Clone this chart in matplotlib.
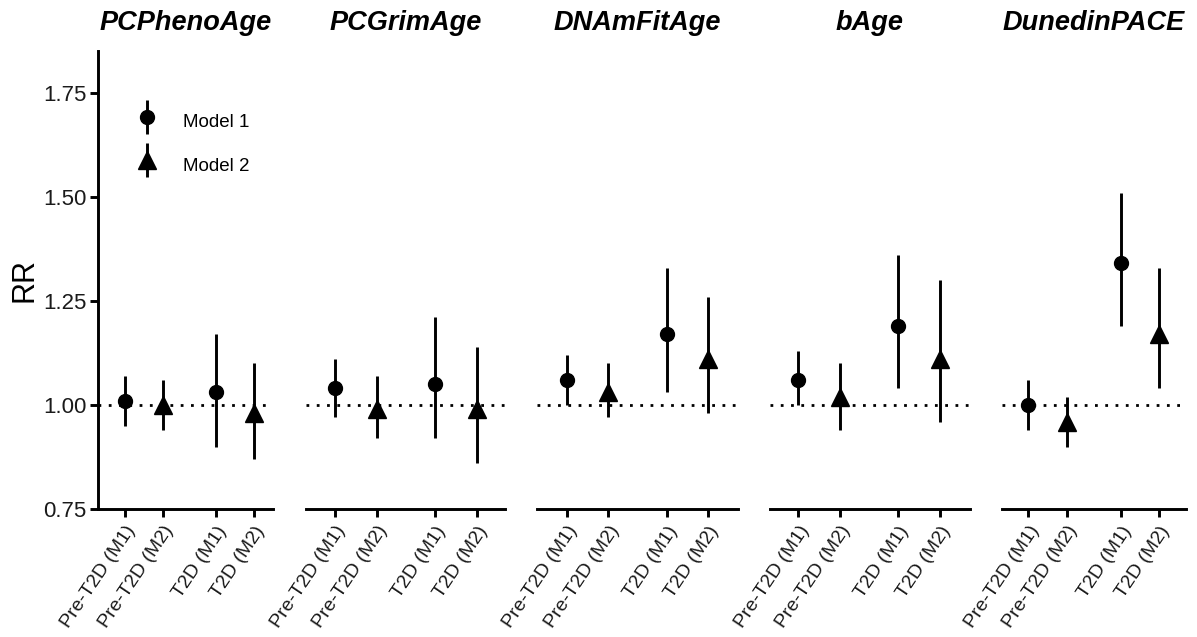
import matplotlib
matplotlib.use("Agg")
import matplotlib.pyplot as plt
import matplotlib.transforms as mtransforms
from matplotlib.container import ErrorbarContainer
from matplotlib.legend_handler import HandlerErrorbar

plt.rcParams['font.family'] = ['Liberation Sans', 'DejaVu Sans']

# ---------------- data ----------------
clocks = ["PCPhenoAge", "PCGrimAge", "DNAmFitAge", "bAge", "DunedinPACE"]
categories = ["Pre-T2D (M1)", "Pre-T2D (M2)", "T2D (M1)", "T2D (M2)"]
models = ["Model 1", "Model 2", "Model 1", "Model 2"]
x_positions = [1, 2, 3.4, 4.4]

rr = {
    "PCPhenoAge":  [1.01, 1.00, 1.03, 0.98],
    "PCGrimAge":   [1.04, 0.99, 1.05, 0.99],
    "DNAmFitAge":  [1.06, 1.03, 1.17, 1.11],
    "bAge":        [1.06, 1.02, 1.19, 1.11],
    "DunedinPACE": [1.00, 0.96, 1.34, 1.17],
}
lower = {
    "PCPhenoAge":  [0.95, 0.94, 0.90, 0.87],
    "PCGrimAge":   [0.97, 0.92, 0.92, 0.86],
    "DNAmFitAge":  [1.00, 0.97, 1.03, 0.98],
    "bAge":        [1.00, 0.94, 1.04, 0.96],
    "DunedinPACE": [0.94, 0.90, 1.19, 1.04],
}
upper = {
    "PCPhenoAge":  [1.07, 1.06, 1.17, 1.10],
    "PCGrimAge":   [1.11, 1.07, 1.21, 1.14],
    "DNAmFitAge":  [1.12, 1.10, 1.33, 1.26],
    "bAge":        [1.13, 1.10, 1.36, 1.30],
    "DunedinPACE": [1.06, 1.02, 1.51, 1.33],
}
y_ticks = [0.75, 1.00, 1.25, 1.50, 1.75]
y_ticklabels = ["0.75", "1.00", "1.25", "1.50", "1.75"]

# ---------------- layout ----------------
W, H = 1197, 637
fig = plt.figure(figsize=(W / 100, H / 100), dpi=100)
panel_px = [(97.7, 273), (306, 505), (537.3, 737.7), (770, 970), (1001.7, 1186)]
panel_xlim = [(0.28, 4.90), (0.31, 5.07), (0.29, 5.11), (0.32, 5.12), (0.31, 5.09)]
top_px, bot_px = 51, 509
marker_of = {"Model 1": "o", "Model 2": "^"}
msize_of = {"Model 1": 10, "Model 2": 13}
LW = 2.1
TXT = "#1a1a1a"

handles = {}
for i, clock in enumerate(clocks):
    l, r = panel_px[i]
    ax = fig.add_axes([l / W, (H - bot_px) / H, (r - l) / W, (bot_px - top_px) / H])
    ax.set_xlim(*panel_xlim[i])
    ax.set_ylim(0.75, 1.85)
    ax.axhline(1.0, color="black", lw=2.0, linestyle=(0, (1.0, 2.7)), zorder=1)
    for j in range(4):
        m = models[j]
        c = ax.errorbar([x_positions[j]], [rr[clock][j]],
                        yerr=[[rr[clock][j] - lower[clock][j]], [upper[clock][j] - rr[clock][j]]],
                        fmt=marker_of[m], color="black", ms=msize_of[m], elinewidth=LW,
                        capsize=0, zorder=3, label=m)
        if i == 0 and m not in handles:
            handles[m] = c
    ax.set_xticks(x_positions)
    ax.set_xticklabels(categories, rotation=56, ha="right", va="top",
                       rotation_mode="anchor", fontsize=14, color=TXT)
    offset = mtransforms.ScaledTranslation(13 / 100, 0, fig.dpi_scale_trans)
    for lab in ax.get_xticklabels():
        lab.set_transform(lab.get_transform() + offset)
    ax.tick_params(axis="x", length=6, width=LW, pad=4, color="black")
    for s in ["top", "right"]:
        ax.spines[s].set_visible(False)
    ax.spines["bottom"].set_linewidth(LW)
    ax.spines["left"].set_linewidth(LW)
    if i == 0:
        ax.set_yticks(y_ticks)
        ax.set_yticklabels(y_ticklabels, fontsize=16, color=TXT)
        ax.tick_params(axis="y", length=6, width=LW, pad=2)
        ax.set_ylabel("RR", fontsize=22, labelpad=3)
    else:
        ax.spines["left"].set_visible(False)
        ax.set_yticks([])
    ax.set_title(clock, fontsize=19.5, fontweight="bold", fontstyle="italic", pad=15)

leg = fig.legend([handles["Model 1"], handles["Model 2"]], ["Model 1", "Model 2"],
                 loc="center left", bbox_to_anchor=(134 / W, (H - 143) / H),
                 frameon=False, fontsize=13.5, handlelength=1.4, handleheight=2.0,
                 handletextpad=1.2, labelspacing=0.76, borderpad=0, borderaxespad=0,
                 handler_map={ErrorbarContainer: HandlerErrorbar(yerr_size=0.9)})

fig.savefig("out.png", dpi=100)
